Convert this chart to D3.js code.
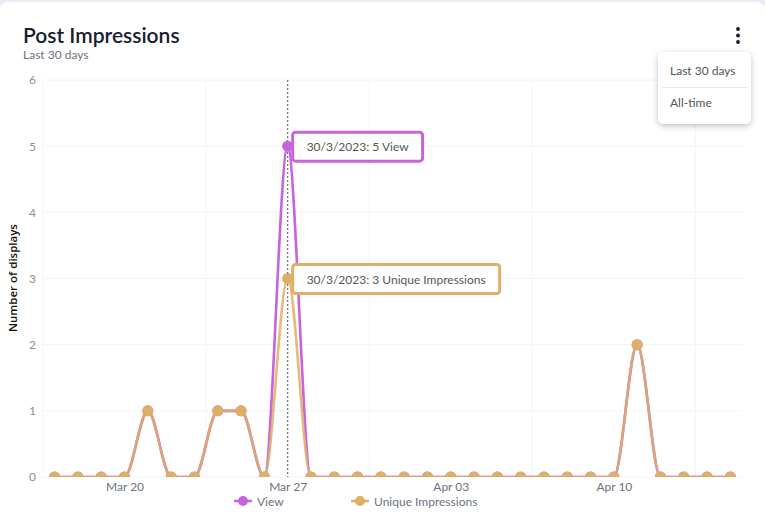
<!DOCTYPE html>
<html><head><meta charset="utf-8">
<script src="https://cdn.jsdelivr.net/npm/d3@7"></script>
<style>
html,body{margin:0;padding:0;background:#e9edf5;}
svg{display:block;}
</style></head><body>
<svg id="chart" width="765" height="519"></svg>
<script>
const dates = ["2023-03-17","2023-03-18","2023-03-19","2023-03-20","2023-03-21","2023-03-22","2023-03-23","2023-03-24","2023-03-25","2023-03-26","2023-03-27","2023-03-28","2023-03-29","2023-03-30","2023-03-31","2023-04-01","2023-04-02","2023-04-03","2023-04-04","2023-04-05","2023-04-06","2023-04-07","2023-04-08","2023-04-09","2023-04-10","2023-04-11","2023-04-12","2023-04-13","2023-04-14","2023-04-15"];
const viewValues =   [0,0,0,0,1,0,0,1,1,0,5,0,0,0,0,0,0,0,0,0,0,0,0,0,0,2,0,0,0,0];
const uniqueValues = [0,0,0,0,1,0,0,1,1,0,3,0,0,0,0,0,0,0,0,0,0,0,0,0,0,2,0,0,0,0];
const xTickLabels = ["Mar 20","Mar 27","Apr 03","Apr 10"];
const yTicks = [0,1,2,3,4,5,6];
const seriesNames = ["View","Unique Impressions"];
const seriesColors = ["#c764db","#deaf66"];
const hoverIndex = 10;
const tooltipTexts = ["30/3/2023: 5 View","30/3/2023: 3 Unique Impressions"];
const menuItems = ["Last 30 days","All-time"];

const FONT = "Lato, 'Open Sans', sans-serif";
const svg = d3.select("#chart");
// card
svg.append("rect").attr("x",0).attr("y",2).attr("width",765).attr("height",530).attr("rx",8).attr("fill","#fff");

// title
svg.append("text").attr("x",23).attr("y",43).text("Post Impressions")
  .attr("font-family",FONT).attr("font-size",21).attr("font-weight",600).attr("fill","#17202e");
svg.append("text").attr("x",23).attr("y",59).text("Last 30 days")
  .attr("font-family",FONT).attr("font-size",12).attr("fill","#6b7280");

const margin = {left:43, right:742, top:80, bottom:477};
const x = d3.scaleLinear().domain([-0.5, dates.length-0.5]).range([margin.left, margin.right]);
const y = d3.scaleLinear().domain([0,6]).range([margin.bottom, margin.top]);
const parse = d3.timeParse("%Y-%m-%d");
const fmt = d3.timeFormat("%b %d");
const dateObjs = dates.map(parse);

// grid
const g = svg.append("g");
g.selectAll(".hg").data(yTicks).join("line")
  .attr("x1",margin.left).attr("x2",margin.right)
  .attr("y1",d=>y(d)).attr("y2",d=>y(d)).attr("stroke","#f3f4f6").attr("stroke-width",1);
const vgrid = d3.range(-0.5, dates.length, 7);
g.selectAll(".vg").data(vgrid).join("line")
  .attr("x1",d=>x(d)).attr("x2",d=>x(d)).attr("y1",margin.top).attr("y2",margin.bottom)
  .attr("stroke","#f3f4f6").attr("stroke-width",1);

// y axis
const yAxis = svg.append("g").attr("transform",`translate(${margin.left-7},0)`)
  .call(d3.axisLeft(y).tickValues(yTicks).tickFormat(d3.format("d")).tickSize(0).tickPadding(0));
yAxis.select(".domain").remove();
yAxis.selectAll("text").attr("font-family",FONT).attr("font-size",12).attr("fill","#8b8f98");
svg.append("text").attr("transform","translate(17,278) rotate(-90)").attr("text-anchor","middle")
  .text("Number of displays").attr("font-family","'Open Sans', sans-serif").attr("font-size",11.5).attr("font-weight",600).attr("fill","#111");

// x axis
const tickIdx = dateObjs.map((d,i)=>i).filter(i=>xTickLabels.includes(fmt(dateObjs[i])));
const xAxis = svg.append("g").attr("transform",`translate(0,${margin.bottom})`)
  .call(d3.axisBottom(x).tickValues(tickIdx).tickFormat(i=>fmt(dateObjs[i])).tickSize(0).tickPadding(5));
xAxis.select(".domain").remove();
xAxis.selectAll("text").attr("font-family",FONT).attr("font-size",12).attr("fill","#6b7280");

// clip
svg.append("clipPath").attr("id","clip").append("rect")
  .attr("x",margin.left).attr("y",margin.top-10).attr("width",margin.right-margin.left).attr("height",margin.bottom-margin.top+10);
const plot = svg.append("g").attr("clip-path","url(#clip)");

// crosshair
svg.append("line").attr("x1",x(hoverIndex)).attr("x2",x(hoverIndex)).attr("y1",margin.top).attr("y2",margin.bottom)
  .attr("stroke","#777").attr("stroke-width",1.3).attr("stroke-dasharray","2 2");

const line = d3.line().x((d,i)=>x(i)).y(d=>y(d)).curve(d3.curveMonotoneX);
const allSeries = [viewValues, uniqueValues];
allSeries.forEach((vals,k)=>{
  plot.append("path").datum(vals).attr("d",line).attr("fill","none")
    .attr("stroke",seriesColors[k]).attr("stroke-width",2.6).attr("stroke-opacity",k===1?0.85:1);
});
allSeries.forEach((vals,k)=>{
  plot.selectAll(null).data(vals).join("circle")
    .attr("cx",(d,i)=>x(i)).attr("cy",d=>y(d)).attr("r",5.5).attr("fill",seriesColors[k]);
});
// hovered markers
allSeries.forEach((vals,k)=>{
  svg.append("circle").attr("cx",x(hoverIndex)).attr("cy",y(vals[hoverIndex])).attr("r",4.5).attr("fill",seriesColors[k]);
});

// tooltips
allSeries.forEach((vals,k)=>{
  const tx = x(hoverIndex)+5, ty = y(vals[hoverIndex])-14;
  const tg = svg.append("g");
  const t = tg.append("text").attr("x",tx+14).attr("y",ty+19).text(tooltipTexts[k])
    .attr("font-family",FONT).attr("font-size",12).attr("fill","#555");
  const w = t.node().getComputedTextLength()+28;
  tg.insert("rect","text").attr("x",tx).attr("y",ty).attr("width",w).attr("height",29).attr("rx",3)
    .attr("fill","#fff").attr("stroke",seriesColors[k]).attr("stroke-width",3);
});

// legend
const legend = svg.append("g");
const legX = [243, 360];
seriesNames.forEach((n,k)=>{
  const lg = legend.append("g").attr("transform",`translate(${legX[k]},501)`);
  lg.append("line").attr("x1",-9).attr("x2",9).attr("stroke",seriesColors[k]).attr("stroke-width",2.5);
  lg.append("circle").attr("r",5).attr("fill",seriesColors[k]);
  lg.append("text").attr("x",14).attr("y",4.5).text(n).attr("font-family",FONT).attr("font-size",12).attr("fill","#6b7280");
});

// kebab
[29,35.5,42].forEach(cy=>svg.append("circle").attr("cx",738).attr("cy",cy).attr("r",1.9).attr("fill","#111827"));

// menu
const defs = svg.append("defs");
const f = defs.append("filter").attr("id","sh").attr("x","-30%").attr("y","-30%").attr("width","160%").attr("height","160%");
f.append("feDropShadow").attr("dx",0).attr("dy",2).attr("stdDeviation",3).attr("flood-color","#000").attr("flood-opacity",0.25);
svg.append("rect").attr("x",658).attr("y",52).attr("width",93).attr("height",72).attr("rx",6).attr("fill","#fff").attr("filter","url(#sh)");
svg.append("line").attr("x1",662).attr("x2",747).attr("y1",87.5).attr("y2",87.5).attr("stroke","#e5e7eb");
menuItems.forEach((m,i)=>svg.append("text").attr("x",670).attr("y",[75,107][i]).text(m)
  .attr("font-family",FONT).attr("font-size",12).attr("fill","#555"));
</script></body></html>
